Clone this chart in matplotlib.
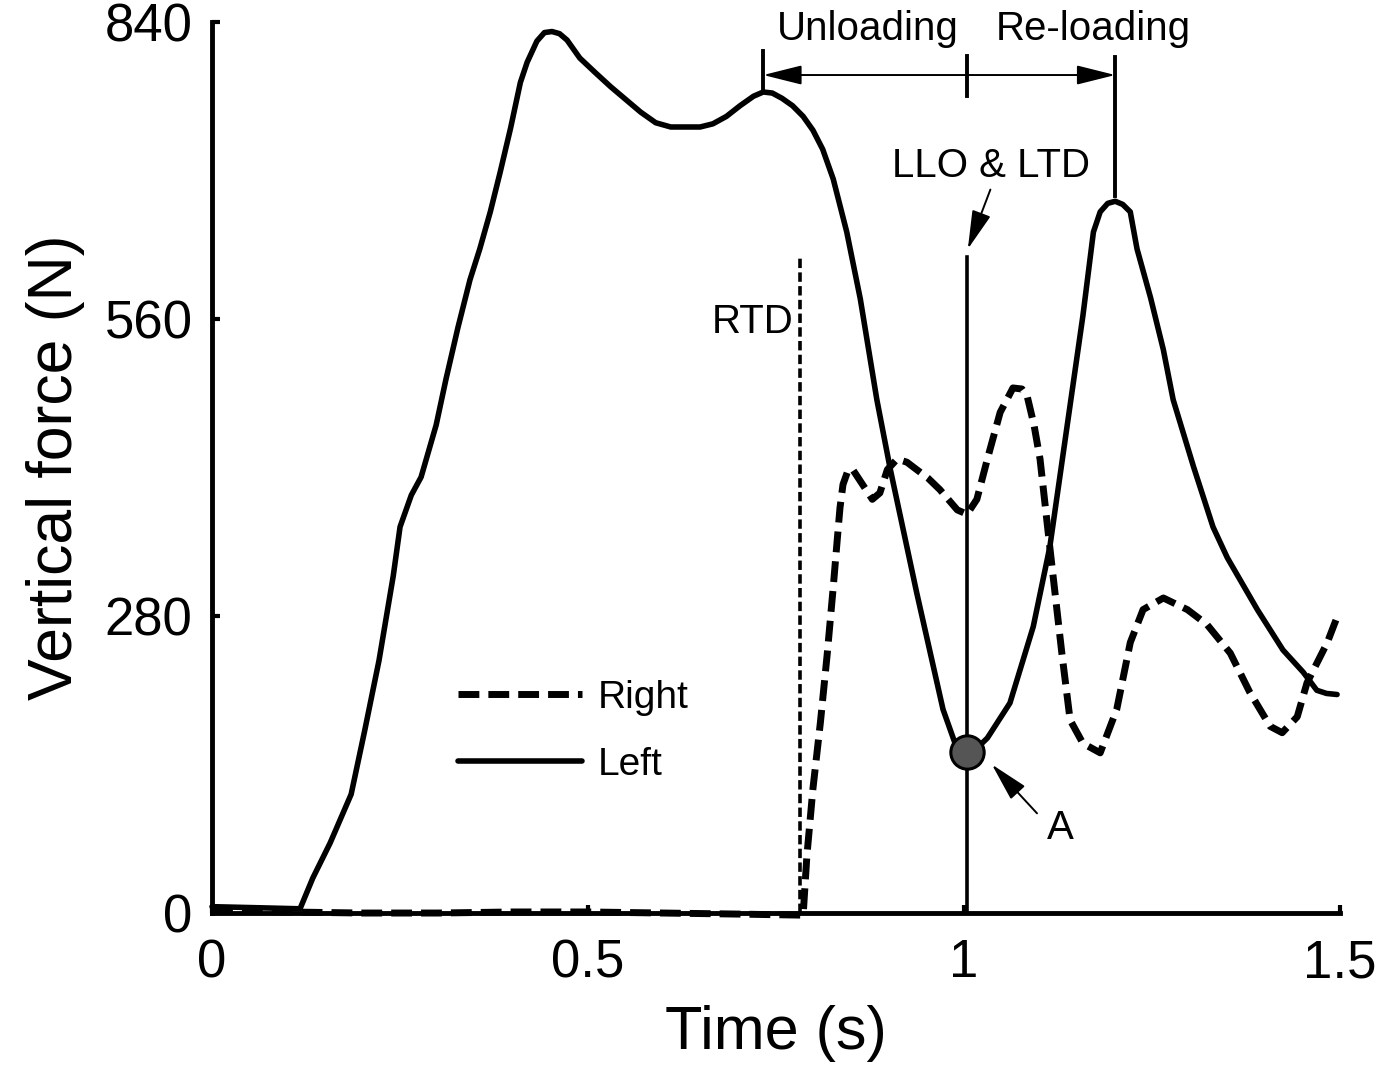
import numpy as np
import matplotlib
matplotlib.use('Agg')
import matplotlib.pyplot as plt

plt.rcParams['font.family'] = ['Liberation Sans', 'DejaVu Sans']

# 左脚（实线）垂直力
left_t = [0.000, 0.060, 0.117, 0.134, 0.157, 0.185, 0.203, 0.222, 0.241, 0.250,
          0.265, 0.278, 0.298, 0.311, 0.327, 0.343, 0.356, 0.370, 0.383, 0.397,
          0.410, 0.419, 0.432, 0.442, 0.452, 0.462, 0.472, 0.489, 0.510, 0.530,
          0.550, 0.570, 0.590, 0.610, 0.649, 0.666, 0.684, 0.702, 0.720, 0.733,
          0.745, 0.758, 0.772, 0.786, 0.799, 0.812, 0.826, 0.844, 0.862, 0.884,
          0.902, 0.937, 0.972, 0.988, 1.005, 1.018, 1.031, 1.061, 1.092, 1.114,
          1.137, 1.158, 1.172, 1.181, 1.191, 1.201, 1.211, 1.221, 1.230, 1.248,
          1.265, 1.278, 1.305, 1.331, 1.350, 1.390, 1.424, 1.451, 1.469, 1.482,
          1.496]
left_F = [6, 5, 4, 33, 66, 112, 172, 238, 318, 364,
          394, 411, 460, 503, 552, 597, 626, 661, 698, 740,
          783, 802, 822, 830, 831, 829, 823, 806, 792, 779,
          767, 755, 745, 741, 741, 744, 751, 761, 770, 774,
          773, 768, 761, 751, 738, 720, 692, 642, 579, 484,
          418, 302, 192, 160, 152, 156, 165, 198, 270, 345,
          459, 563, 642, 661, 669, 671, 668, 661, 626, 580,
          531, 484, 421, 364, 335, 286, 248, 227, 210, 207,
          206]

# 右脚（虚线）垂直力
right_t = [0.000, 0.100, 0.200, 0.300, 0.400, 0.500, 0.600, 0.700, 0.786, 0.791,
           0.799, 0.809, 0.818, 0.826, 0.831, 0.835, 0.839, 0.846, 0.852, 0.865,
           0.878, 0.888, 0.898, 0.911, 0.924, 0.937, 0.952, 0.968, 0.991, 1.004,
           1.017, 1.031, 1.048, 1.065, 1.077, 1.084, 1.093, 1.101, 1.114, 1.130,
           1.141, 1.158, 1.181, 1.203, 1.221, 1.238, 1.265, 1.297, 1.323, 1.354,
           1.380, 1.407, 1.423, 1.443, 1.456, 1.483, 1.496]
right_F = [2, 1, 0, 0, 1, 1, 0, -1, -2, 54,
           117, 180, 244, 307, 349, 382, 404, 418, 418, 404,
           390, 396, 418, 428, 425, 418, 410, 399, 380, 376,
           390, 428, 472, 495, 494, 487, 460, 428, 345, 245,
           182, 160, 151, 192, 255, 286, 297, 286, 272, 245,
           208, 176, 170, 185, 217, 255, 279]

xticks = [0, 0.5, 1, 1.5]
xticklabels = ['0', '0.5', '1', '1.5']
yticks = [0, 280, 560, 840]

# 事件时刻
t_rtd = 0.782
t_llo = 1.004
t_unload = 0.733
t_reload = 1.201
F_A = 152

fig = plt.figure(figsize=(13.76, 10.67), dpi=100)
ax = fig.add_axes([0.1541, 0.1443, 0.8198, 0.8351])

ax.plot(right_t, right_F, color='k', lw=5, dashes=(3, 1.3), label='Right',
        clip_on=False, zorder=3)
ax.plot(left_t, left_F, color='k', lw=4, solid_capstyle='round',
        solid_joinstyle='round', label='Left', clip_on=False, zorder=3)

# 竖线
ax.plot([t_rtd, t_rtd], [0, 618], color='k', lw=2.6, dashes=(2.6, 1.2), zorder=2)
ax.plot([t_llo, t_llo], [0, 618], color='k', lw=2.6, zorder=2)
ax.plot([t_llo], [F_A], 'o', ms=24, mfc='#555555', mec='k', mew=2.2, zorder=5)

# 卸载 / 再加载
ax.plot([t_unload, t_unload], [775, 813], color='k', lw=2.8, clip_on=False)
ax.plot([t_llo, t_llo], [770, 808], color='k', lw=2.8, clip_on=False)
ax.plot([t_reload, t_reload], [676, 807], color='k', lw=2.8, clip_on=False)
arr = dict(arrowstyle='-|>,head_length=0.4,head_width=0.1', mutation_scale=60,
           color='k', lw=1.4, shrinkA=0, shrinkB=0)
ax.annotate('', xy=(t_unload, 790), xytext=(t_llo, 790), arrowprops=arr)
ax.annotate('', xy=(t_reload, 790), xytext=(t_llo, 790), arrowprops=arr)

ax.text(0.872, 833, 'Unloading', fontsize=29, ha='center', va='center')
ax.text(1.172, 833, 'Re-loading', fontsize=29, ha='center', va='center')

ax.text(1.036, 704, 'LLO & LTD', fontsize=29, ha='center', va='center')
ax.annotate('', xy=(1.005, 626), xytext=(1.035, 682), arrowprops=arr)

ax.text(0.773, 557, 'RTD', fontsize=29, ha='right', va='center')

ax.text(1.128, 80, 'A', fontsize=29, ha='center', va='center')
ax.annotate('', xy=(1.037, 140), xytext=(1.097, 94), arrowprops=arr)

leg = ax.legend(loc='upper left', bbox_to_anchor=(0.218, 0.262), frameon=False,
                fontsize=28, handlelength=3.2, handletextpad=0.4,
                labelspacing=0.8, borderpad=0, borderaxespad=0)

ax.set_xlim(0, 1.5)
ax.set_ylim(0, 840)
ax.set_xticks(xticks)
ax.set_xticklabels(xticklabels)
ax.set_yticks(yticks)
ax.tick_params(direction='in', length=6, width=3, labelsize=38, color='k')
ax.tick_params(axis='x', pad=18)
ax.tick_params(axis='y', pad=14)
for s in ['top', 'right']:
    ax.spines[s].set_visible(False)
for s in ['left', 'bottom']:
    ax.spines[s].set_linewidth(3.5)
ax.set_xlabel('Time (s)', fontsize=44, labelpad=12)
ax.set_ylabel('Vertical force (N)', fontsize=45, labelpad=14)

fig.savefig('out.png', dpi=100)
